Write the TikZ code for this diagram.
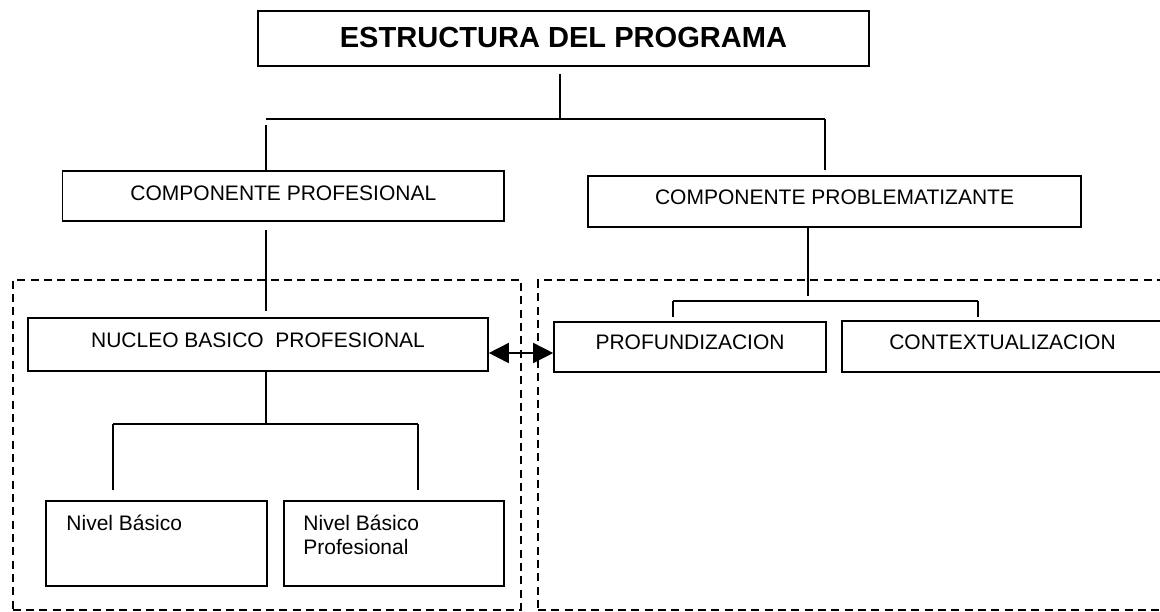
\documentclass[tikz,border=0pt]{standalone}
\usepackage{fontspec}
\setmainfont{Liberation Sans}
\usetikzlibrary{fit,arrows.meta}
\tikzset{
  box/.style={draw, line width=1.2pt, inner sep=0pt, text depth=7pt, font=\fontsize{15.75}{18}\selectfont},
  titlebox/.style={box, text depth=2pt, font=\fontsize{21.8}{26}\bfseries\selectfont},
  plainbox/.style={draw, line width=1.2pt, inner sep=0pt},
  frame/.style={draw, line width=1.5pt, dash pattern=on 6pt off 4pt, inner sep=0pt},
  conn/.style={line width=1.2pt},
  txt/.style={anchor=north west, inner sep=0pt, align=left, font=\fontsize{15.75}{18}\selectfont},
  tip/.tip={Triangle[length=15pt,width=15pt]}
}
\begin{document}
\begin{tikzpicture}[x=0.75pt,y=-0.75pt]
\useasboundingbox (0,0) rectangle (1160,611);
\clip (0,0) rectangle (1160,611);
% group frames
\node[frame, fit={(12.7,280) (521,609.5)}] (leftgroup) {};
\node[frame, fit={(538,280) (1180,609.5)}] (rightgroup) {};
% boxes
\node[titlebox, minimum width=458.25pt, minimum height=41.25pt] (title) at (563.5,38.5) {ESTRUCTURA DEL PROGRAMA};
\node[box, text depth=5pt, minimum width=331pt, minimum height=37.5pt] (cp) at (283.35,196) {COMPONENTE PROFESIONAL};
\node[box, text depth=6pt, minimum width=369.75pt, minimum height=38.25pt] (cprob) at (834.5,201.5) {COMPONENTE PROBLEMATIZANTE};
\node[box, minimum width=345pt, minimum height=39.75pt] (nucleo) at (258,344.5) {NUCLEO BASICO\ \ PROFESIONAL};
\node[box, minimum width=204pt, minimum height=37.5pt] (prof) at (690,347) {PROFUNDIZACION};
\node[box, minimum width=240.75pt, minimum height=38.25pt] (ctx) at (1002.5,346.5) {CONTEXTUALIZACION};
\node[plainbox, fit={(46,501) (267,586)}] (nb1) {};
\node[plainbox, fit={(284,501) (504,586)}] (nb2) {};
\node[txt] (nb1t) at ([shift={(21,15)}]nb1.north west) {Nivel Básico};
\node[txt] (nb2t) at ([shift={(20,15)}]nb2.north west) {Nivel Básico\\Profesional};
% junction coordinates
\coordinate (busT) at (560,119);
\coordinate (busL) at (265.7,119);
\coordinate (busR) at (825,119);
\coordinate (nbM) at (265.7,424);
\coordinate (nbL) at (113,424);
\coordinate (nbR) at (418,424);
\coordinate (pcM) at (808,301);
\coordinate (pcL) at (673,301);
\coordinate (pcR) at (978,301);
\coordinate (ay) at (520,353);
% connectors
\draw[conn, shorten <=5.25pt] (title.south -| busT) -- (busT);
\draw[conn] (busL) -- (busR);
\draw[conn, shorten <=4.5pt] (busL) -- (busL |- cp.north);
\draw[conn, shorten >=3.75pt] (busR) -- (busR |- cprob.north);
\draw[conn, shorten <=6pt, shorten >=4.5pt] (busL |- cp.south) -- (busL |- nucleo.north);
\draw[conn] (busL |- nucleo.south) -- (nbM);
\draw[conn] (nbL) -- (nbR);
\draw[conn, shorten >=7.5pt] (nbL) -- (nbL |- nb1.north);
\draw[conn, shorten >=7.5pt] (nbR) -- (nbR |- nb2.north);
\draw[conn, shorten >=3.75pt] (pcM |- cprob.south) -- (pcM);
\draw[conn] (pcL) -- (pcR);
\draw[conn, shorten >=3pt] (pcL) -- (pcL |- prof.north);
\draw[conn, shorten >=2.25pt] (pcR) -- (pcR |- ctx.north);
\draw[conn, tip-tip] (nucleo.east |- ay) -- (prof.west |- ay);
\end{tikzpicture}
\end{document}
